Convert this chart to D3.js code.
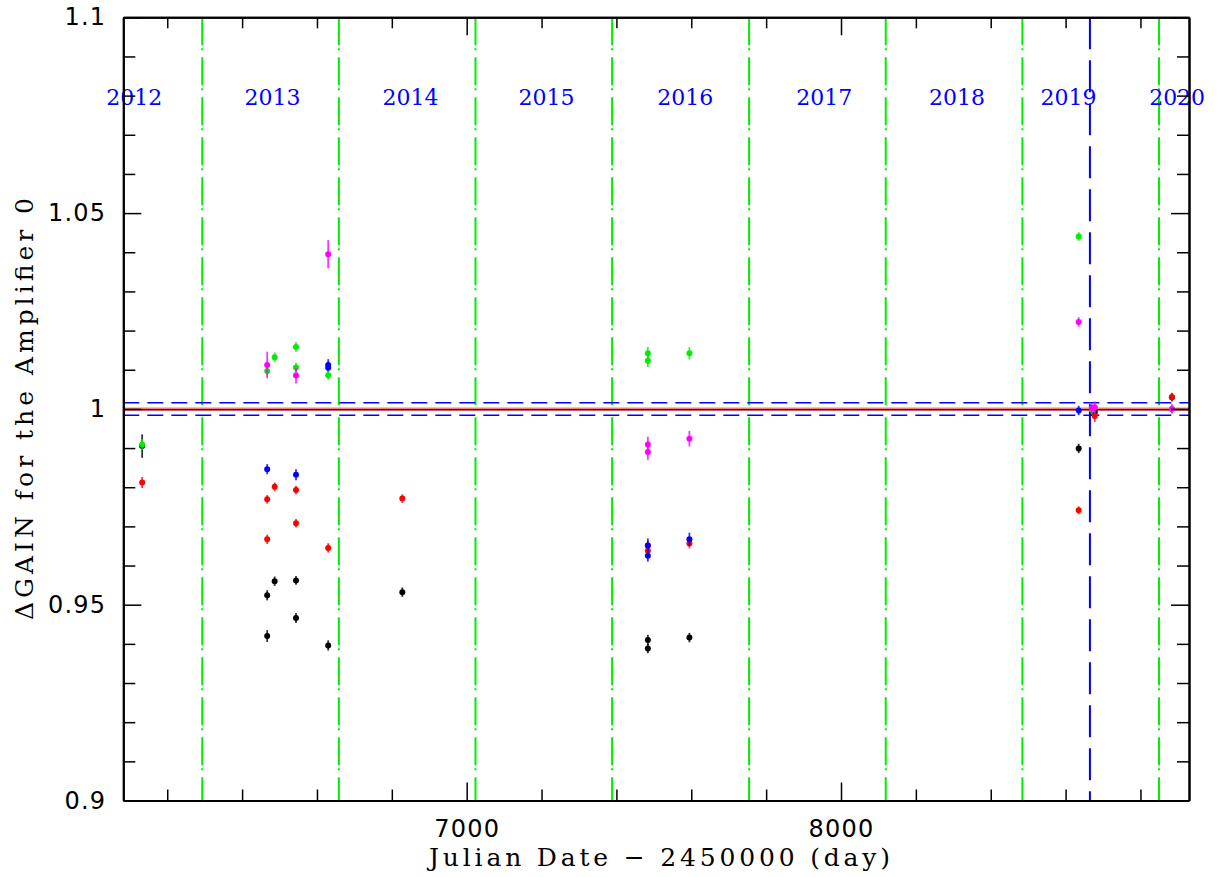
<!DOCTYPE html>
<html>
<head>
<meta charset="utf-8">
<script src="https://cdn.jsdelivr.net/npm/d3@7"></script>
<style>
  html, body { margin: 0; padding: 0; background: #fff; }
  #chart svg { display: block; }
</style>
</head>
<body>
<div id="chart"></div>
<script>
// Dominio de los ejes (JD - 2450000, ΔGAIN)
const xDominio = [6082.6, 8929.7];
const yDominio = [0.9, 1.1];

const xMayores = [7000, 8000];
const xEtiquetas = ["7000", "8000"];
const yMayores = [0.9, 0.95, 1, 1.05, 1.1];
const yEtiquetas = ["0.9", "0.95", "1", "1.05", "1.1"];

// Inicio de cada año (líneas verdes) y posición de las etiquetas
const inicioAnio = [6293.5, 6658.5, 7023.5, 7388.5, 7754.5, 8119.5, 8484.5, 8849.5];
const anios = ["2012", "2013", "2014", "2015", "2016", "2017", "2018", "2019", "2020"];
const jdAnios = [6112, 6481, 6850, 7213, 7584, 7955, 8310, 8608, 8898];

const jdCorte = 8665; // línea azul vertical
const nivelRef = 1.0;
const nivelOscuro = 0.9998;
const bandaSup = 1.0016;
const bandaInf = 0.9984;

// Series
const jdNegro = [6133, 6467, 6467, 6487, 6544, 6544, 6630, 6828, 7484, 7484, 7595, 8635, 8670, 8678, 8884];
const valNegro = [0.9905, 0.9524, 0.9420, 0.9560, 0.9562, 0.9466, 0.9396, 0.9532, 0.9410, 0.9388, 0.9416, 0.9899, 0.9996, 0.9992, 1.0030];
const errNegro = [0.0030, 0.0013, 0.0015, 0.0012, 0.0011, 0.0013, 0.0013, 0.0012, 0.0013, 0.0012, 0.0012, 0.0012, 0.0012, 0.0012, 0.0010];

const jdRojo = [6133, 6467, 6467, 6487, 6544, 6544, 6630, 6828, 7484, 7484, 7595, 8635, 8678, 8884];
const valRojo = [0.9812, 0.9769, 0.9667, 0.9801, 0.9793, 0.9708, 0.9645, 0.9771, 0.9651, 0.9638, 0.9656, 0.9741, 0.9982, 1.0030];
const errRojo = [0.0014, 0.0011, 0.0012, 0.0011, 0.0011, 0.0011, 0.0012, 0.0011, 0.0012, 0.0012, 0.0012, 0.0010, 0.0015, 0.0011];

const jdAzul = [6467, 6544, 6630, 6630, 7484, 7484, 7595, 8635];
const valAzul = [0.9846, 0.9832, 1.0112, 1.0105, 0.9651, 0.9625, 0.9667, 0.9996];
const errAzul = [0.0013, 0.0014, 0.0015, 0.0012, 0.0018, 0.0015, 0.0017, 0.0012];

const jdVerde = [6133, 6467, 6487, 6544, 6544, 6630, 7484, 7484, 7595, 8635, 8670, 8884];
const valVerde = [0.9909, 1.0097, 1.0132, 1.0158, 1.0106, 1.0086, 1.0142, 1.0123, 1.0142, 1.0440, 0.9998, 1.0000];
const errVerde = [0.0014, 0.0012, 0.0012, 0.0012, 0.0012, 0.0012, 0.0016, 0.0016, 0.0016, 0.0011, 0.0012, 0.0010];

const jdMagenta = [6467, 6544, 6630, 7484, 7484, 7595, 8635, 8670, 8678, 8884];
const valMagenta = [1.0112, 1.0085, 1.0395, 0.9909, 0.9890, 0.9924, 1.0222, 1.0002, 1.0004, 1.0000];
const errMagenta = [0.0034, 0.0020, 0.0036, 0.0020, 0.0020, 0.0020, 0.0012, 0.0012, 0.0015, 0.0012];

const series = [
  { color: "#000000", jd: jdNegro, val: valNegro, err: errNegro },
  { color: "#ff0000", jd: jdRojo, val: valRojo, err: errRojo },
  { color: "#0000ff", jd: jdAzul, val: valAzul, err: errAzul },
  { color: "#00ee00", jd: jdVerde, val: valVerde, err: errVerde },
  { color: "#ff00ff", jd: jdMagenta, val: valMagenta, err: errMagenta }
];

const width = 1223, height = 877;
const margen = { left: 123.3, right: 1223 - 1189, top: 17.3, bottom: 877 - 800.5 };
const iw = width - margen.left - margen.right;
const ih = height - margen.top - margen.bottom;

const x = d3.scaleLinear().domain(xDominio).range([0, iw]);
const y = d3.scaleLinear().domain(yDominio).range([ih, 0]);

const svg = d3.select("#chart").append("svg")
  .attr("width", width)
  .attr("height", height);

const g = svg.append("g").attr("transform", `translate(${margen.left},${margen.top})`);

// Líneas verdes de inicio de año
g.selectAll("line.anio")
  .data(inicioAnio)
  .join("line")
  .attr("class", "anio")
  .attr("x1", d => x(d)).attr("x2", d => x(d))
  .attr("y1", 0).attr("y2", ih)
  .attr("stroke", "#00ee00")
  .attr("stroke-width", 2)
  .attr("stroke-dasharray", "28,3,2,7");

// Línea azul vertical
g.append("line")
  .attr("x1", x(jdCorte)).attr("x2", x(jdCorte))
  .attr("y1", 0).attr("y2", ih)
  .attr("stroke", "#0000ff")
  .attr("stroke-width", 2)
  .attr("stroke-dasharray", "32,11");

// Bandas horizontales
[bandaSup, bandaInf].forEach(v => {
  g.append("line")
    .attr("x1", 0).attr("x2", iw)
    .attr("y1", y(v)).attr("y2", y(v))
    .attr("stroke", "#0000ff")
    .attr("stroke-width", 1.5)
    .attr("stroke-dasharray", "16,8");
});

g.append("line")
  .attr("x1", 0).attr("x2", iw)
  .attr("y1", y(nivelRef)).attr("y2", y(nivelRef))
  .attr("stroke", "#f08080")
  .attr("stroke-width", 3);

g.append("line")
  .attr("x1", 0).attr("x2", iw)
  .attr("y1", y(nivelOscuro)).attr("y2", y(nivelOscuro))
  .attr("stroke", "#8b0000")
  .attr("stroke-width", 1.5);

// Etiquetas de año
g.selectAll("text.etiqueta-anio")
  .data(anios)
  .join("text")
  .attr("class", "etiqueta-anio")
  .attr("x", (d, i) => x(jdAnios[i]))
  .attr("y", 105 - margen.top)
  .attr("text-anchor", "middle")
  .attr("fill", "#0000ff")
  .style("font-family", "'DejaVu Serif', serif")
  .style("font-size", "22px")
  .text(d => d);

// Puntos con barras de error
series.forEach(s => {
  const datos = s.jd.map((jd, i) => ({ jd, v: s.val[i], e: s.err[i] }));
  const grupo = g.append("g");
  grupo.selectAll("line")
    .data(datos)
    .join("line")
    .attr("x1", d => x(d.jd)).attr("x2", d => x(d.jd))
    .attr("y1", d => y(d.v - d.e)).attr("y2", d => y(d.v + d.e))
    .attr("stroke", s.color)
    .attr("stroke-opacity", 0.8)
    .attr("stroke-width", 1.8);
  grupo.selectAll("circle")
    .data(datos)
    .join("circle")
    .attr("cx", d => x(d.jd))
    .attr("cy", d => y(d.v))
    .attr("r", 3)
    .attr("fill", s.color);
});

// Ejes
const xMenores = d3.range(6200, 8930, 200).filter(d => !xMayores.includes(d));
const yMenores = d3.range(91, 110).map(d => d / 100).filter(d => !yMayores.some(m => Math.abs(m - d) < 1e-6));

function estiloEje(sel) {
  sel.select(".domain").attr("stroke", "#000").attr("stroke-width", 2);
  sel.selectAll(".tick line").attr("stroke", "#000").attr("stroke-width", 1.5);
  sel.selectAll(".tick text")
    .style("font-family", "'DejaVu Sans', sans-serif")
    .style("font-size", "24px")
    .style("letter-spacing", "1.2px")
    .attr("fill", "#000");
}

g.append("g").attr("transform", `translate(0,${ih})`)
  .call(d3.axisBottom(x).tickValues(xMayores).tickSize(-18).tickSizeOuter(0).tickPadding(19)
    .tickFormat((d, i) => xEtiquetas[i]))
  .call(estiloEje);
g.append("g").attr("transform", `translate(0,${ih})`)
  .call(d3.axisBottom(x).tickValues(xMenores).tickSize(-11).tickSizeOuter(0).tickFormat(""))
  .call(estiloEje);
g.append("g")
  .call(d3.axisTop(x).tickValues(xMayores).tickSize(-18).tickSizeOuter(0).tickFormat(""))
  .call(estiloEje);
g.append("g")
  .call(d3.axisTop(x).tickValues(xMenores).tickSize(-11).tickSizeOuter(0).tickFormat(""))
  .call(estiloEje);

g.append("g")
  .call(d3.axisLeft(y).tickValues(yMayores).tickSize(-18).tickSizeOuter(0).tickPadding(17)
    .tickFormat((d, i) => yEtiquetas[i]))
  .call(estiloEje);
g.append("g")
  .call(d3.axisLeft(y).tickValues(yMenores).tickSize(-12).tickSizeOuter(0).tickFormat(""))
  .call(estiloEje);
g.append("g").attr("transform", `translate(${iw},0)`)
  .call(d3.axisRight(y).tickValues(yMayores).tickSize(-18).tickSizeOuter(0).tickFormat(""))
  .call(estiloEje);
g.append("g").attr("transform", `translate(${iw},0)`)
  .call(d3.axisRight(y).tickValues(yMenores).tickSize(-12).tickSizeOuter(0).tickFormat(""))
  .call(estiloEje);

// Títulos de ejes
svg.append("text")
  .attr("x", 659.5)
  .attr("y", 866)
  .attr("text-anchor", "middle")
  .attr("textLength", 461)
  .attr("lengthAdjust", "spacing")
  .style("font-family", "'DejaVu Serif', serif")
  .style("font-size", "25px")
  .text("Julian Date − 2450000 (day)");

svg.append("text")
  .attr("transform", `translate(33,409) rotate(-90)`)
  .attr("text-anchor", "middle")
  .attr("textLength", 422)
  .attr("lengthAdjust", "spacing")
  .style("font-family", "'DejaVu Serif', serif")
  .style("font-size", "25px")
  .text("ΔGAIN for the Amplifier 0");
</script>
</body>
</html>
